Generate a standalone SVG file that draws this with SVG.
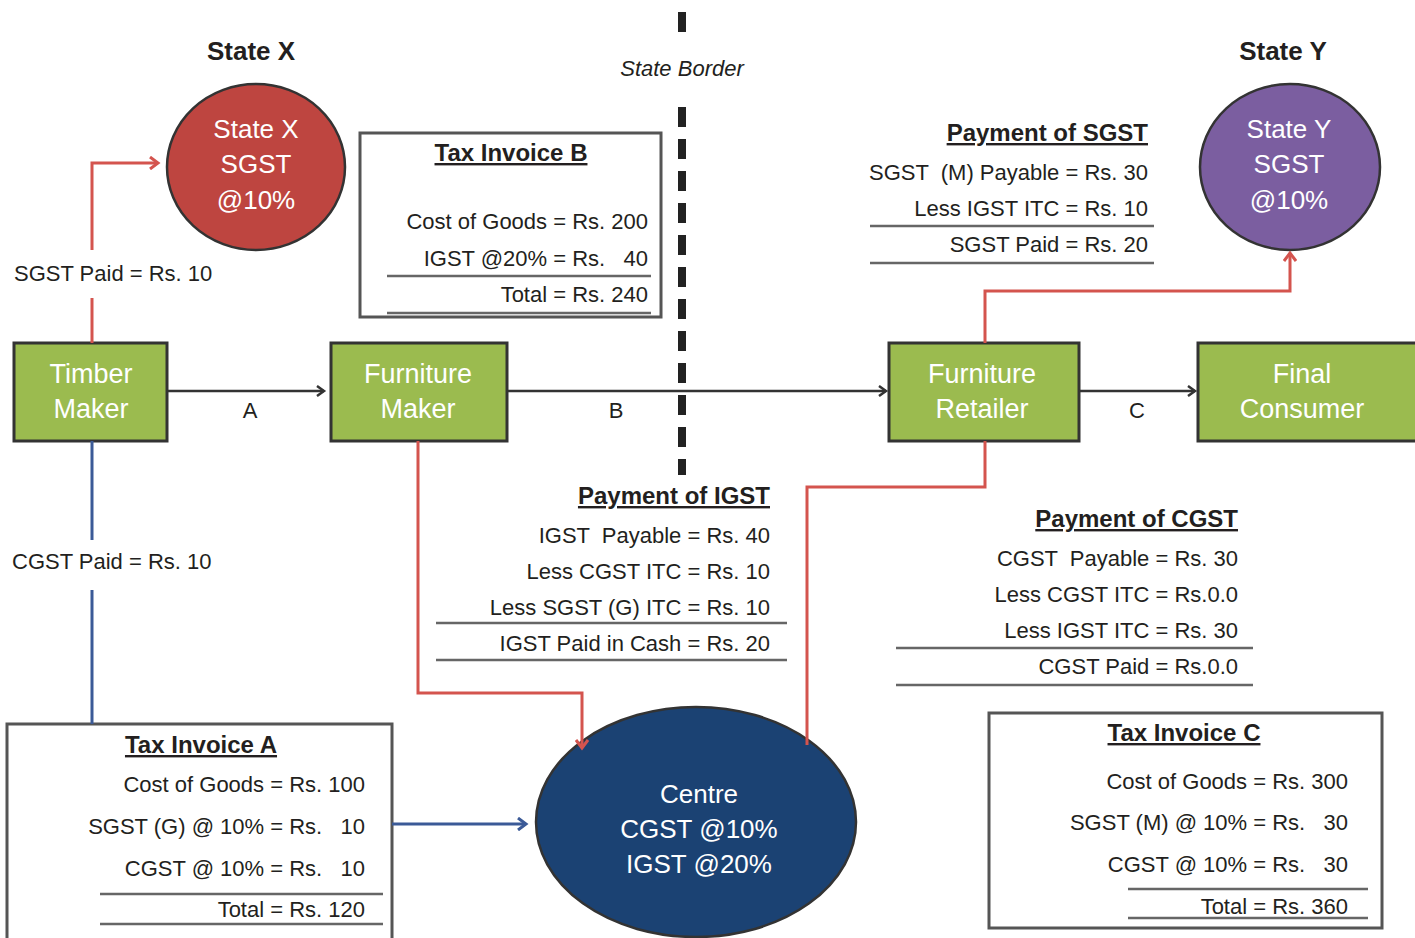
<svg xmlns="http://www.w3.org/2000/svg" width="1415" height="938" viewBox="0 0 1415 938">
<style>
text{font-family:"Liberation Sans",Arial,sans-serif;fill:#231f20}
.box{fill:#9bbb4f;stroke:#333;stroke-width:3}
.wt{fill:#fff;font-size:27px;text-anchor:middle}
.ct{fill:#fff;font-size:26px;text-anchor:middle}
.lbl{font-size:22px}
.r{text-anchor:end}
.m{text-anchor:middle}
.hd{font-size:24px;font-weight:bold;text-decoration:underline}
.ttl{font-size:26px;font-weight:bold;text-anchor:middle}
.inv{fill:#fff;stroke:#555;stroke-width:3}
.rule{stroke:#666;stroke-width:2.5}
.blk{stroke:#333;stroke-width:2.5;fill:none}
.red{stroke:#d4544e;stroke-width:3;fill:none}
.blu{stroke:#3b5a97;stroke-width:3;fill:none}
</style>
<defs>
<marker id="ab" markerWidth="12" markerHeight="12" refX="9" refY="6" orient="auto" markerUnits="userSpaceOnUse"><path d="M2,1 L9,6 L2,11" fill="none" stroke="#333" stroke-width="2.5"/></marker>
<marker id="ar" markerWidth="14" markerHeight="14" refX="10" refY="7" orient="auto" markerUnits="userSpaceOnUse"><path d="M2,1 L10,7 L2,13" fill="none" stroke="#d4544e" stroke-width="3"/></marker>
<marker id="au" markerWidth="14" markerHeight="14" refX="10" refY="7" orient="auto" markerUnits="userSpaceOnUse"><path d="M2,1 L10,7 L2,13" fill="none" stroke="#3b5a97" stroke-width="3"/></marker>
</defs>

<g id="border">
<line x1="682" y1="12" x2="682" y2="32" stroke="#222" stroke-width="8"/>
<line x1="682" y1="107" x2="682" y2="475" stroke="#222" stroke-width="8" stroke-dasharray="20 12"/>
<text x="682" y="76" class="lbl m" font-style="italic">State Border</text>
</g>

<g id="stateX">
<text x="251" y="60" class="ttl">State X</text>
<ellipse cx="256" cy="167" rx="89" ry="83" fill="#be4540" stroke="#333" stroke-width="2.5"/>
<text x="256" y="138" class="ct">State X</text>
<text x="256" y="173" class="ct">SGST</text>
<text x="256" y="209" class="ct">@10%</text>
</g>

<g id="stateY">
<text x="1283" y="60" class="ttl">State Y</text>
<ellipse cx="1290" cy="167" rx="90" ry="83" fill="#7b5ea0" stroke="#333" stroke-width="2.5"/>
<text x="1289" y="138" class="ct">State Y</text>
<text x="1289" y="173" class="ct">SGST</text>
<text x="1289" y="209" class="ct">@10%</text>
</g>

<g id="timber">
<rect x="14" y="343" width="153" height="98" class="box"/>
<text x="91" y="383" class="wt">Timber</text>
<text x="91" y="418" class="wt">Maker</text>
</g>
<g id="fmaker">
<rect x="331" y="343" width="176" height="98" class="box"/>
<text x="418" y="383" class="wt">Furniture</text>
<text x="418" y="418" class="wt">Maker</text>
</g>
<g id="retailer">
<rect x="889" y="343" width="190" height="98" class="box"/>
<text x="982" y="383" class="wt">Furniture</text>
<text x="982" y="418" class="wt">Retailer</text>
</g>
<g id="consumer">
<rect x="1198" y="343" width="225" height="98" class="box"/>
<text x="1302" y="383" class="wt">Final</text>
<text x="1302" y="418" class="wt">Consumer</text>
</g>

<g id="invoiceB">
<rect x="360" y="133" width="301" height="184" class="inv"/>
<text x="511" y="161" class="hd m">Tax Invoice B</text>
<text x="648" y="229" class="lbl r">Cost of Goods = Rs. 200</text>
<text x="648" y="266" class="lbl r" xml:space="preserve">IGST @20% = Rs.   40</text>
<line x1="387" y1="276" x2="651" y2="276" class="rule"/>
<text x="648" y="302" class="lbl r">Total = Rs. 240</text>
<line x1="387" y1="313" x2="651" y2="313" class="rule"/>
</g>

<g id="paySGST">
<text x="1148" y="141" class="hd r">Payment of SGST</text>
<text x="1148" y="180" class="lbl r" xml:space="preserve">SGST  (M) Payable = Rs. 30</text>
<text x="1148" y="216" class="lbl r">Less IGST ITC = Rs. 10</text>
<line x1="870" y1="226" x2="1154" y2="226" class="rule"/>
<text x="1148" y="252" class="lbl r">SGST Paid = Rs. 20</text>
<line x1="870" y1="263" x2="1154" y2="263" class="rule"/>
</g>

<g id="payIGST">
<text x="770" y="504" class="hd r">Payment of IGST</text>
<text x="770" y="543" class="lbl r" xml:space="preserve">IGST  Payable = Rs. 40</text>
<text x="770" y="579" class="lbl r">Less CGST ITC = Rs. 10</text>
<text x="770" y="615" class="lbl r">Less SGST (G) ITC = Rs. 10</text>
<line x1="436" y1="623" x2="787" y2="623" class="rule"/>
<text x="770" y="651" class="lbl r">IGST Paid in Cash = Rs. 20</text>
<line x1="436" y1="660" x2="787" y2="660" class="rule"/>
</g>

<g id="payCGST">
<text x="1238" y="527" class="hd r">Payment of CGST</text>
<text x="1238" y="566" class="lbl r" xml:space="preserve">CGST  Payable = Rs. 30</text>
<text x="1238" y="602" class="lbl r">Less CGST ITC = Rs.0.0</text>
<text x="1238" y="638" class="lbl r">Less IGST ITC = Rs. 30</text>
<line x1="896" y1="648" x2="1253" y2="648" class="rule"/>
<text x="1238" y="674" class="lbl r">CGST Paid = Rs.0.0</text>
<line x1="896" y1="685" x2="1253" y2="685" class="rule"/>
</g>

<g id="invoiceA">
<rect x="7" y="724" width="385" height="220" class="inv" stroke="#333"/>
<text x="201" y="753" class="hd m">Tax Invoice A</text>
<text x="365" y="792" class="lbl r">Cost of Goods = Rs. 100</text>
<text x="365" y="834" class="lbl r" xml:space="preserve">SGST (G) @ 10% = Rs.   10</text>
<text x="365" y="876" class="lbl r" xml:space="preserve">CGST @ 10% = Rs.   10</text>
<line x1="100" y1="894" x2="383" y2="894" class="rule"/>
<text x="365" y="917" class="lbl r">Total = Rs. 120</text>
<line x1="100" y1="924" x2="383" y2="924" class="rule"/>
</g>

<g id="centre">
<ellipse cx="696" cy="822" rx="160" ry="115" fill="#1b4273" stroke="#333" stroke-width="2.5"/>
<text x="699" y="803" class="ct">Centre</text>
<text x="699" y="838" class="ct">CGST @10%</text>
<text x="699" y="873" class="ct">IGST @20%</text>
</g>

<g id="invoiceC">
<rect x="989" y="713" width="393" height="215" class="inv"/>
<text x="1184" y="741" class="hd m">Tax Invoice C</text>
<text x="1348" y="789" class="lbl r">Cost of Goods = Rs. 300</text>
<text x="1348" y="830" class="lbl r" xml:space="preserve">SGST (M) @ 10% = Rs.   30</text>
<text x="1348" y="872" class="lbl r" xml:space="preserve">CGST @ 10% = Rs.   30</text>
<line x1="1128" y1="889" x2="1368" y2="889" class="rule"/>
<text x="1348" y="914" class="lbl r">Total = Rs. 360</text>
<line x1="1128" y1="918" x2="1368" y2="918" class="rule"/>
</g>

<g id="connectors">
<line x1="167" y1="391" x2="324" y2="391" class="blk" marker-end="url(#ab)"/>
<text x="250" y="418" class="lbl m">A</text>
<line x1="507" y1="391" x2="886" y2="391" class="blk" marker-end="url(#ab)"/>
<text x="616" y="418" class="lbl m">B</text>
<line x1="1079" y1="391" x2="1195" y2="391" class="blk" marker-end="url(#ab)"/>
<text x="1137" y="418" class="lbl m">C</text>
<path d="M92,343 V298" class="red"/>
<path d="M92,250 V163 H158" class="red" marker-end="url(#ar)"/>
<text x="14" y="281" class="lbl">SGST Paid = Rs. 10</text>
<path d="M92,441 V540" class="blu"/>
<path d="M92,590 V724" class="blu"/>
<text x="12" y="569" class="lbl">CGST Paid = Rs. 10</text>
<path d="M392,824 H526" class="blu" marker-end="url(#au)"/>
<path d="M418,441 V693 H582 V748" class="red" marker-end="url(#ar)"/>
<path d="M985,441 V487 H807 V745" class="red"/>
<path d="M985,343 V291 H1290 V253" class="red" marker-end="url(#ar)"/>
</g>
</svg>
